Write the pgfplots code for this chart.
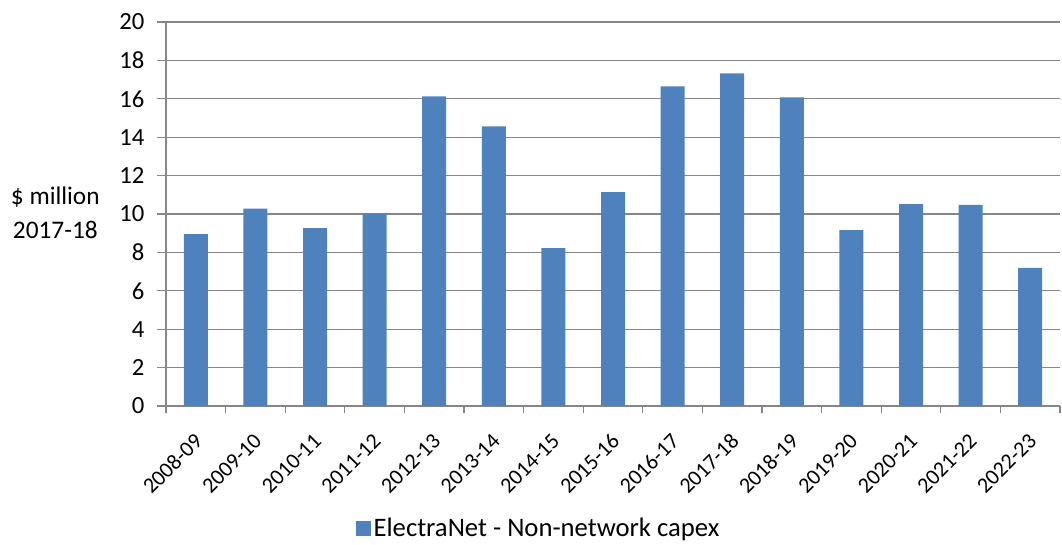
\documentclass[border=0pt]{standalone}
\usepackage{pgfplots}
\pgfplotsset{compat=1.18}
\usepackage{fontspec}
\setmainfont{Carlito}
\definecolor{barblue}{HTML}{4F81BD}
\definecolor{gridgray}{HTML}{868686}
\begin{document}
\begin{tikzpicture}
\path[use as bounding box] (-124.5pt,-103.5pt) rectangle (672pt,304.5pt);
\begin{axis}[
  at={(0,0)}, anchor=south west,
  scale only axis,
  width=670.5pt, height=288pt,
  xmin=-0.5, xmax=14.5,
  ymin=0, ymax=20,
  ytick={0,2,...,20},
  xtick={0,...,14},
  xticklabels={2008-09,2009-10,2010-11,2011-12,2012-13,2013-14,2014-15,2015-16,2016-17,2017-18,2018-19,2019-20,2020-21,2021-22,2022-23},
  minor xtick={-0.5,0.5,...,14.5},
  major x tick style={draw=none},
  minor x tick style={draw=gridgray, line width=0.8pt},
  y tick style={draw=gridgray, line width=0.8pt},
  tick align=outside,
  ytick style={/pgfplots/major tick length=7pt},
  major tick length=5pt,
  minor tick length=5pt,
  axis x line*=bottom,
  axis y line*=left,
  axis line style={draw=gridgray, line width=0.8pt, -},
  ymajorgrids,
  grid style={draw=gridgray, line width=0.8pt},
  x tick label style={xshift=-2pt, yshift=-13pt, rotate=45, anchor=north east, inner sep=1pt, font=\fontsize{16.5}{18}\selectfont},
  y tick label style={font=\fontsize{18.5}{20}\selectfont, inner sep=2pt, xshift=-9pt},
  /pgf/number format/assume math mode=true,
  ylabel={\$ million\\2017-18},
  ylabel style={rotate=-90, align=center, font=\fontsize{19}{25.5}\selectfont, at={(rel axis cs:0,0.5)}, anchor=center, xshift=-83pt, yshift=1pt},
  legend style={at={(rel axis cs:0.417,0)}, anchor=center, yshift=-92pt, draw=none, font=\fontsize{20}{22}\selectfont, inner sep=0pt},
  legend image code/.code={\fill[barblue] (0pt,-5.5pt) rectangle (11.5pt,5.5pt);},
  clip=false,
]
\addplot[ybar, bar width=18pt, fill=barblue, draw=none, bar shift=0pt] coordinates {
(0,8.95) (1,10.28) (2,9.27) (3,10.03) (4,16.13) (5,14.57) (6,8.22) (7,11.14) (8,16.65) (9,17.33) (10,16.08) (11,9.16) (12,10.52) (13,10.48) (14,7.2)
};
\addlegendentry{ElectraNet - Non-network capex}
\end{axis}
\end{tikzpicture}
\end{document}
